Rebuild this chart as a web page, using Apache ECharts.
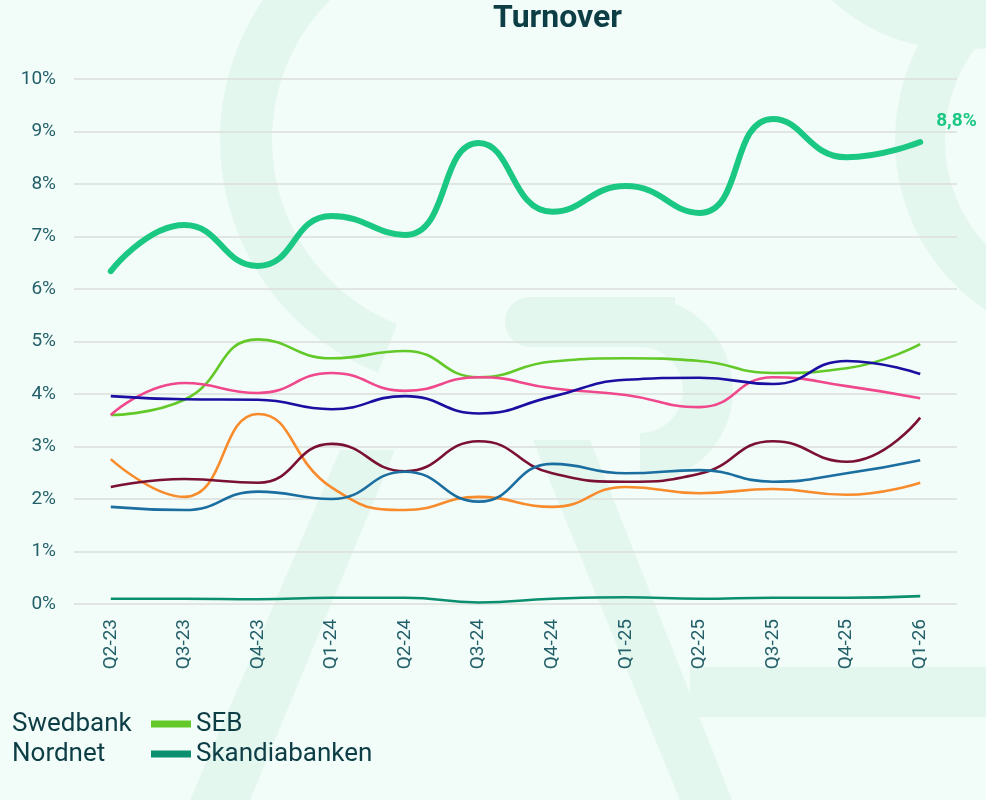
<!DOCTYPE html>
<html>
<head>
<meta charset="utf-8">
<script src="https://cdn.jsdelivr.net/npm/echarts@6/dist/echarts.min.js"></script>
<style>
  html, body { margin: 0; padding: 0; background: #f2fcf8; }
  #chart { width: 986px; height: 800px; }
</style>
</head>
<body>
<div id="chart"></div>
<script>
'use strict';

const quarters = ['Q2-23', 'Q3-23', 'Q4-23', 'Q1-24', 'Q2-24', 'Q3-24', 'Q4-24', 'Q1-25', 'Q2-25', 'Q3-25', 'Q4-25', 'Q1-26'];

const main = [6.34, 7.22, 6.44, 7.39, 7.03, 8.78, 7.47, 7.96, 7.45, 9.24, 8.51, 8.80];
const seb = [3.60, 3.89, 5.04, 4.68, 4.82, 4.32, 4.62, 4.68, 4.63, 4.40, 4.49, 4.95];
const pink = [3.60, 4.21, 4.02, 4.40, 4.06, 4.32, 4.11, 3.98, 3.75, 4.32, 4.15, 3.92];
const nordnet = [3.96, 3.90, 3.89, 3.71, 3.96, 3.63, 3.95, 4.27, 4.31, 4.19, 4.63, 4.38];
const swedbank = [2.76, 2.04, 3.62, 2.22, 1.79, 2.04, 1.85, 2.23, 2.11, 2.19, 2.08, 2.31];
const maroon = [2.23, 2.38, 2.31, 3.05, 2.53, 3.10, 2.49, 2.33, 2.48, 3.10, 2.71, 3.55];
const steel = [1.85, 1.79, 2.14, 2.00, 2.52, 1.95, 2.67, 2.49, 2.55, 2.33, 2.49, 2.74];
const skandia = [0.10, 0.10, 0.09, 0.12, 0.12, 0.03, 0.10, 0.13, 0.10, 0.12, 0.12, 0.15];

const INK = '#0d3d45';
const AXIS = '#24606a';
const PALE = '#e4f7ef';

const thin = (name, data, color) => ({
  name, type: 'line', data, smooth: 0.5, symbol: 'none',
  lineStyle: { width: 2.6, color }, itemStyle: { color }, z: 3,
});

// faint watermark behind the plot
const bg = (type, shape, extra) => Object.assign({ type, z: -10, silent: true, shape, style: { fill: PALE } }, extra || {});

const chart = echarts.init(document.getElementById('chart'));
chart.setOption({
  backgroundColor: '#f2fcf8',
  textStyle: { fontFamily: 'Roboto, sans-serif' },
  animation: false,
  graphic: [
    bg('sector', { cx: 470, cy: 140, r0: 198, r: 250, startAngle: Math.PI * 0.62, endAngle: Math.PI * 1.45 }),
    bg('rect', { x: 505, y: 297, width: 170, height: 50, r: [25, 0, 0, 25] }),
    bg('sector', { cx: 640, cy: 390, r0: 43, r: 93, startAngle: -Math.PI / 2, endAngle: Math.PI / 2 }),
    bg('polygon', { points: [[340, 450], [395, 450], [250, 800], [190, 800]] }),
    bg('polygon', { points: [[533, 440], [590, 440], [732, 800], [680, 800]] }),
    bg('rect', { x: 690, y: 667, width: 300, height: 50 }),
    bg('circle', { cx: 960, cy: -140, r: 190 }),
    bg('sector', { cx: 1100, cy: 140, r0: 155, r: 205, startAngle: Math.PI * 0.55, endAngle: Math.PI * 1.45 }),
    { type: 'text', left: 493, top: 3, style: { text: 'Turnover', font: 'bold 32px Roboto, sans-serif', fill: INK } },
  ],
  grid: { left: 74, right: 29, top: 79, bottom: 196, containLabel: false },
  legend: [
    {
      orient: 'vertical', left: -33, top: 711, itemGap: 4, padding: 0,
      itemWidth: 40, itemHeight: 7, icon: 'rect',
      itemStyle: { opacity: 0 },
      textStyle: { fontSize: 26, color: INK },
      data: ['Swedbank', 'Nordnet'],
    },
    {
      orient: 'vertical', left: 151, top: 711, itemGap: 4, padding: 0,
      itemWidth: 40, itemHeight: 7, icon: 'rect',
      textStyle: { fontSize: 26, color: INK },
      data: ['SEB', 'Skandiabanken'],
    },
  ],
  xAxis: {
    type: 'category', data: quarters, boundaryGap: true,
    axisLine: { show: false }, axisTick: { show: false },
    axisLabel: { rotate: 90, color: AXIS, fontSize: 19, margin: 15 },
  },
  yAxis: {
    type: 'value', min: 0, max: 10, interval: 1,
    axisLine: { show: false }, axisTick: { show: false },
    axisLabel: { formatter: '{value}%', color: AXIS, fontSize: 19, margin: 18 },
    splitLine: { lineStyle: { color: '#dcdfdd', width: 1.5 } },
  },
  series: [
    {
      name: 'Total', type: 'line', data: main, smooth: 0.5, symbol: 'none', z: 4,
      lineStyle: { width: 6, color: '#1bc883', cap: 'round' }, itemStyle: { color: '#1bc883' },
      endLabel: {
        show: true, color: '#1bc883', fontWeight: 'bold', fontSize: 19, offset: [8, -21],
        formatter: (p) => String(p.value).replace('.', ',') + '%',
      },
    },
    thin('SEB', seb, '#62c928'),
    thin('Danske Bank', pink, '#f0488c'),
    thin('Nordnet', nordnet, '#1a0fa0'),
    thin('Swedbank', swedbank, '#f88b2c'),
    thin('Handelsbanken', maroon, '#7a1034'),
    thin('Nordea', steel, '#1b6ea0'),
    thin('Skandiabanken', skandia, '#0c8f6e'),
  ],
});
</script>
</body>
</html>
